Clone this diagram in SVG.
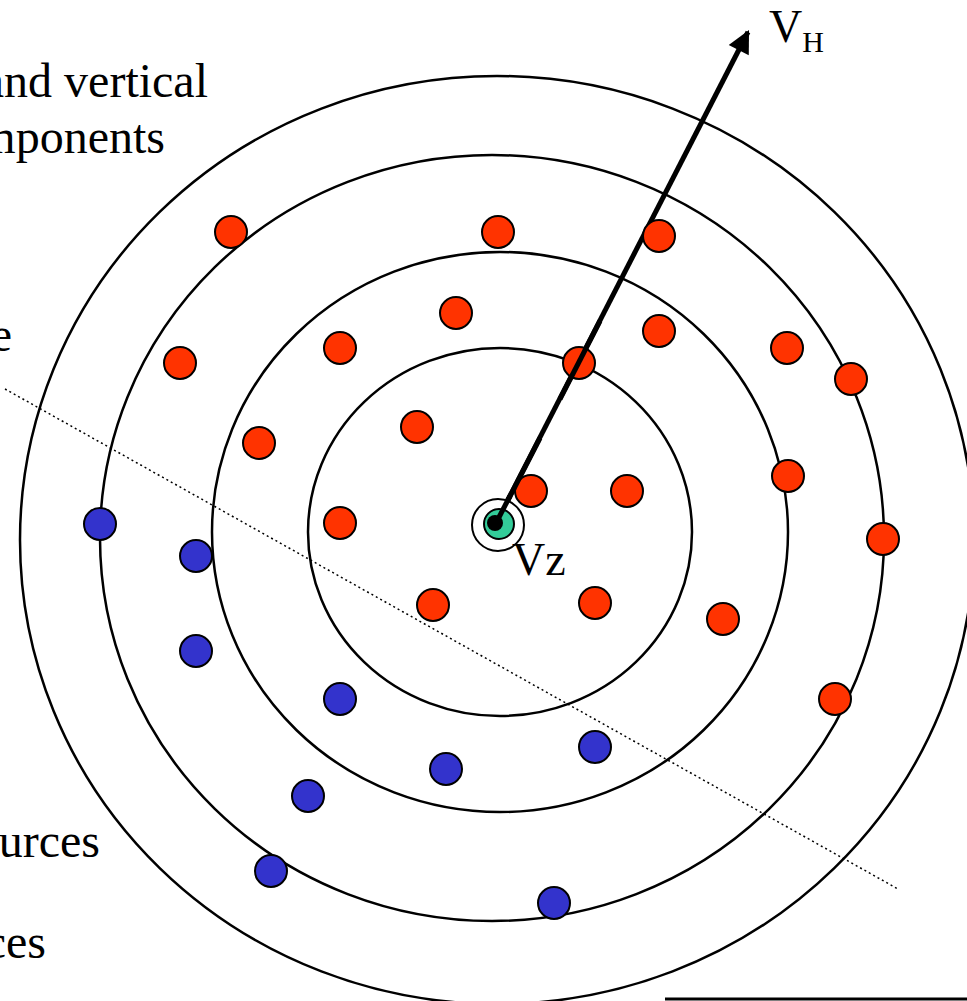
<svg xmlns="http://www.w3.org/2000/svg" width="967" height="1001" viewBox="0 0 967 1001">
<style>
.ring{fill:none;stroke:#000;stroke-width:2.5}
.red{fill:#FF3300;stroke:#000;stroke-width:2}
.blue{fill:#3333CC;stroke:#000;stroke-width:2}
.t{font-family:"Liberation Serif","Times New Roman",serif;fill:#000}
</style>
<defs>
<marker id="ah" viewBox="0 0 10 10" refX="9" refY="5" markerWidth="5.5" markerHeight="4.5" orient="auto" markerUnits="strokeWidth">
<path d="M0,0 L10,5 L0,10 z" fill="#000"/>
</marker>
</defs>
<rect width="967" height="1001" fill="#fff"/>
<g id="rings">
<ellipse class="ring" cx="497" cy="540" rx="477" ry="464"/>
<ellipse class="ring" cx="492" cy="538" rx="392" ry="383"/>
<ellipse class="ring" cx="500" cy="532" rx="288" ry="280"/>
<ellipse class="ring" cx="500" cy="532" rx="192" ry="184"/>
</g>
<g id="connectors">
<line x1="5" y1="389" x2="898" y2="889" stroke="#000" stroke-width="1.5" stroke-dasharray="2,3"/>
<line x1="496" y1="523" x2="748" y2="32" stroke="#000" stroke-width="5" marker-end="url(#ah)"/>
</g>
<g id="red-sources">
<circle class="red" cx="231" cy="232" r="16"/>
<circle class="red" cx="498" cy="232" r="16"/>
<circle class="red" cx="659" cy="236" r="16"/>
<circle class="red" cx="180" cy="363" r="16"/>
<circle class="red" cx="340" cy="348" r="16"/>
<circle class="red" cx="456" cy="313" r="16"/>
<circle class="red" cx="659" cy="331" r="16"/>
<circle class="red" cx="787" cy="348" r="16"/>
<circle class="red" cx="851" cy="379" r="16"/>
<circle class="red" cx="259" cy="443" r="16"/>
<circle class="red" cx="417" cy="427" r="16"/>
<circle class="red" cx="788" cy="476" r="16"/>
<circle class="red" cx="531" cy="491" r="16"/>
<circle class="red" cx="627" cy="491" r="16"/>
<circle class="red" cx="340" cy="523" r="16"/>
<circle class="red" cx="883" cy="539" r="16"/>
<circle class="red" cx="433" cy="605" r="16"/>
<circle class="red" cx="595" cy="603" r="16"/>
<circle class="red" cx="723" cy="619" r="16"/>
<circle class="red" cx="835" cy="699" r="16"/>
<circle class="red" cx="579" cy="363" r="16"/>
</g>
<g id="blue-sources">
<circle class="blue" cx="100" cy="524" r="16"/>
<circle class="blue" cx="196" cy="556" r="16"/>
<circle class="blue" cx="196" cy="651" r="16"/>
<circle class="blue" cx="340" cy="699" r="16"/>
<circle class="blue" cx="446" cy="769" r="16"/>
<circle class="blue" cx="595" cy="747" r="16"/>
<circle class="blue" cx="308" cy="796" r="16"/>
<circle class="blue" cx="271" cy="871" r="16"/>
<circle class="blue" cx="554" cy="903" r="16"/>
</g>
<g id="arrow-over">
<line x1="560" y1="399" x2="600" y2="321" stroke="#000" stroke-width="5"/>
<line x1="505" y1="506" x2="540" y2="438" stroke="#000" stroke-width="5"/>
</g>
<g id="center">
<circle cx="498" cy="525" r="26" fill="#fff" stroke="#000" stroke-width="2"/>
<circle cx="499" cy="524" r="15" fill="#33CC99" stroke="#000" stroke-width="2"/>
<circle cx="495" cy="523" r="8" fill="#000"/>
<line x1="496" y1="523" x2="510" y2="496" stroke="#000" stroke-width="5"/>
</g>
<g id="labels">
<text class="t" x="769" y="42" font-size="46">V<tspan font-size="30" dy="10">H</tspan></text>
<text class="t" x="512" y="575" font-size="46">Vz</text>
<text class="t" x="208" y="97" font-size="48" text-anchor="end">and vertical</text>
<text class="t" x="165" y="153" font-size="48" text-anchor="end">components</text>
<text class="t" x="12" y="351" font-size="48" text-anchor="end">e</text>
<text class="t" x="100" y="857" font-size="48" text-anchor="end">urces</text>
<text class="t" x="46" y="958" font-size="48" text-anchor="end">ces</text>
</g>
<g id="frame-edge">
<line x1="665" y1="999" x2="967" y2="999" stroke="#000" stroke-width="3"/>
</g>
</svg>
